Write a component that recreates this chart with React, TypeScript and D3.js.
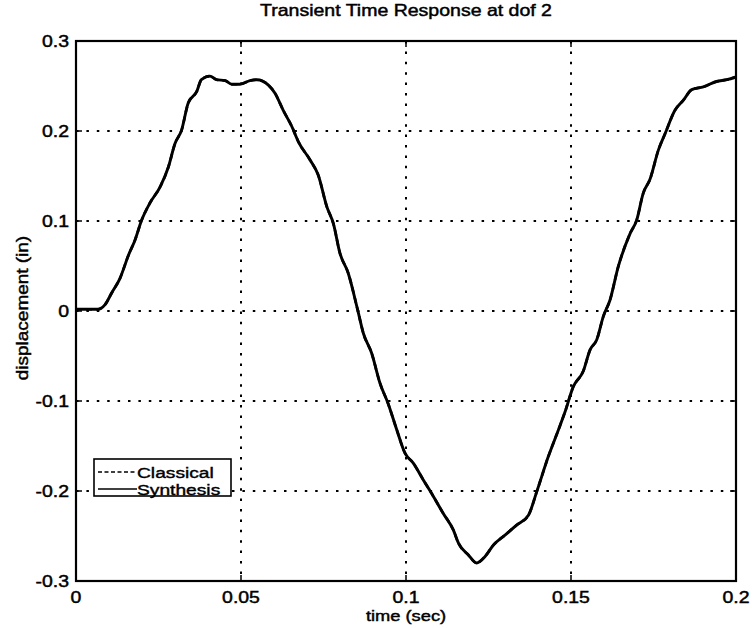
import React, { useRef, useEffect } from 'react';
import * as d3 from 'd3';

// time (sec) samples
const times = [
  0, 0.0067, 0.0088, 0.0108, 0.0133, 0.0159, 0.0179, 0.0199, 0.0224, 0.0255,
  0.028, 0.030, 0.032, 0.034, 0.0366, 0.038, 0.0406, 0.0426, 0.0452, 0.0472,
  0.0497, 0.0527, 0.0548, 0.0583, 0.0603, 0.0628, 0.0654, 0.0674, 0.0709, 0.0734,
  0.076, 0.078, 0.080, 0.0825, 0.0853, 0.0871, 0.0896, 0.0921, 0.0946, 0.0972,
  0.0997, 0.1022, 0.1053, 0.1083, 0.1113, 0.1143, 0.1159, 0.1189, 0.1214, 0.1239,
  0.1265, 0.130, 0.1335, 0.1371, 0.1396, 0.1431, 0.1462, 0.1482, 0.1507, 0.1537,
  0.1558, 0.1578, 0.1598, 0.1618, 0.1643, 0.1679, 0.1699, 0.1719, 0.1739, 0.1765,
  0.1785, 0.1815, 0.184, 0.1866, 0.1901, 0.1941, 0.1972, 0.2,
];

// displacement (in) - synthesis (solid)
const synthesis = [
  0.002, 0.002, 0.007, 0.02, 0.036, 0.062, 0.079, 0.101, 0.12, 0.138,
  0.16, 0.186, 0.201, 0.231, 0.244, 0.257, 0.261, 0.257, 0.256, 0.252,
  0.252, 0.256, 0.257, 0.251, 0.242, 0.223, 0.205, 0.188, 0.168, 0.151,
  0.116, 0.097, 0.064, 0.042, 0.002, -0.025, -0.047, -0.08, -0.103, -0.132,
  -0.158, -0.169, -0.188, -0.206, -0.225, -0.243, -0.258, -0.271, -0.28, -0.273,
  -0.26, -0.249, -0.238, -0.227, -0.201, -0.162, -0.132, -0.112, -0.084, -0.067,
  -0.043, -0.032, -0.006, 0.012, 0.049, 0.086, 0.101, 0.131, 0.146, 0.179,
  0.197, 0.223, 0.234, 0.246, 0.249, 0.255, 0.257, 0.26,
];

// classical (dashed) lies right under the synthesis trace
const classical = [
  0.002, 0.002, 0.007, 0.02, 0.036, 0.062, 0.079, 0.101, 0.12, 0.138,
  0.16, 0.186, 0.201, 0.231, 0.244, 0.257, 0.261, 0.257, 0.256, 0.252,
  0.252, 0.256, 0.257, 0.251, 0.242, 0.223, 0.205, 0.188, 0.168, 0.151,
  0.116, 0.097, 0.064, 0.042, 0.002, -0.025, -0.047, -0.08, -0.103, -0.132,
  -0.158, -0.169, -0.188, -0.206, -0.225, -0.243, -0.258, -0.271, -0.28, -0.273,
  -0.26, -0.249, -0.238, -0.227, -0.201, -0.162, -0.132, -0.112, -0.084, -0.067,
  -0.043, -0.032, -0.006, 0.012, 0.049, 0.086, 0.101, 0.131, 0.146, 0.179,
  0.197, 0.223, 0.234, 0.246, 0.249, 0.255, 0.257, 0.26,
];

const xTicks = [0, 0.05, 0.1, 0.15, 0.2];
const xTickLabels = ['0', '0.05', '0.1', '0.15', '0.2'];
const yTicks = [0.3, 0.2, 0.1, 0, -0.1, -0.2, -0.3];
const yTickLabels = ['0.3', '0.2', '0.1', '0', '-0.1', '-0.2', '-0.3'];
const legendNames = ['Classical', 'Synthesis'];

const App = () => {
  const ref = useRef<HTMLDivElement>(null);

  useEffect(() => {
    const width = 752;
    const height = 628;
    const marginLeft = 76;
    const marginRight = 16;
    const marginTop = 41;
    const marginBottom = 47;
    const font = 'Liberation Sans, Arial, Helvetica, sans-serif';
    const stretch = 1.18;

    const x = d3.scaleLinear([0, 0.2], [marginLeft, width - marginRight]);
    const y = d3.scaleLinear([-0.3, 0.3], [height - marginBottom, marginTop]);

    const svg = d3.create('svg')
      .attr('width', width)
      .attr('height', height)
      .attr('viewBox', [0, 0, width, height])
      .style('position', 'absolute')
      .style('left', 0)
      .style('top', 0)
      .style('background', '#fff')
      .style('font-family', font);

    // horizontally stretched, slightly heavy text, like the scanned figure
    const label = (px: number, py: number, txt: string, size: number, anchor: string, rotate = 0, sx = stretch) => {
      svg.append('g')
        .attr('transform', `translate(${px},${py}) rotate(${rotate}) scale(${sx},1)`)
        .append('text')
        .attr('text-anchor', anchor)
        .attr('font-size', size)
        .attr('fill', '#000')
        .attr('stroke', '#000')
        .attr('stroke-width', 0.45)
        .text(txt);
    };

    // grid
    const grid = svg.append('g')
      .attr('stroke', '#000')
      .attr('stroke-width', 2)
      .attr('stroke-dasharray', '2.5 7.9');
    grid.selectAll('.gx')
      .data(xTicks.slice(1, -1))
      .join('line')
      .attr('x1', d => x(d)).attr('x2', d => x(d))
      .attr('y1', y(0.3)).attr('y2', y(-0.3));
    grid.selectAll('.gy')
      .data(yTicks.slice(1, -1))
      .join('line')
      .attr('y1', d => y(d)).attr('y2', d => y(d))
      .attr('x1', x(0)).attr('x2', x(0.2));

    // tick marks (inside, all four sides)
    const ticks = svg.append('g').attr('stroke', '#000').attr('stroke-width', 1.5);
    xTicks.forEach(t => {
      ticks.append('line').attr('x1', x(t)).attr('x2', x(t)).attr('y1', y(-0.3)).attr('y2', y(-0.3) - 6);
      ticks.append('line').attr('x1', x(t)).attr('x2', x(t)).attr('y1', y(0.3)).attr('y2', y(0.3) + 6);
    });
    yTicks.forEach(t => {
      ticks.append('line').attr('y1', y(t)).attr('y2', y(t)).attr('x1', x(0)).attr('x2', x(0) + 6);
      ticks.append('line').attr('y1', y(t)).attr('y2', y(t)).attr('x1', x(0.2)).attr('x2', x(0.2) - 6);
    });

    // curves
    const line = d3.line<number>()
      .x((_, i) => x(times[i]))
      .y(d => y(d))
      .curve(d3.curveMonotoneX);

    svg.append('path')
      .attr('fill', 'none')
      .attr('stroke', '#000')
      .attr('stroke-width', 2.6)
      .attr('stroke-dasharray', '6 4')
      .attr('d', line(classical));

    svg.append('path')
      .attr('fill', 'none')
      .attr('stroke', '#000')
      .attr('stroke-width', 2.9)
      .attr('stroke-linejoin', 'round')
      .attr('d', line(synthesis));

    // axes box
    svg.append('rect')
      .attr('x', x(0)).attr('y', y(0.3))
      .attr('width', x(0.2) - x(0)).attr('height', y(-0.3) - y(0.3))
      .attr('fill', 'none')
      .attr('stroke', '#000')
      .attr('stroke-width', 2.2);

    // tick labels
    xTicks.forEach((t, i) => label(x(t), y(-0.3) + 22, xTickLabels[i], 16.5, 'middle'));
    yTicks.forEach((t, i) => label(x(0) - 7, y(t) + 6, yTickLabels[i], 16.5, 'end'));

    // titles
    label((x(0) + x(0.2)) / 2, 16, 'Transient Time Response at dof 2', 16, 'middle', 0, 1.22);
    label((x(0) + x(0.2)) / 2, 621, 'time (sec)', 15.5, 'middle');
    label(28, (y(0.3) + y(-0.3)) / 2 - 3, 'displacement (in)', 16.5, 'middle', -90, 1.15);

    // legend
    const lg = svg.append('g');
    lg.append('rect')
      .attr('x', 94).attr('y', 459)
      .attr('width', 137).attr('height', 37)
      .attr('fill', '#fff')
      .attr('stroke', '#000')
      .attr('stroke-width', 1.6);
    legendNames.forEach((name, i) => {
      const ly = 472 + i * 17;
      lg.append('line')
        .attr('x1', 98).attr('x2', 137)
        .attr('y1', ly).attr('y2', ly)
        .attr('stroke', '#000')
        .attr('stroke-width', 1.6)
        .attr('stroke-dasharray', i === 0 ? '4 2.5' : null);
      lg.append('g')
        .attr('transform', `translate(137,${ly + 5.5}) scale(1.24,1)`)
        .append('text')
        .attr('font-size', 15.5)
        .attr('fill', '#000')
        .attr('stroke', '#000')
        .attr('stroke-width', 0.4)
        .text(name);
    });

    ref.current!.appendChild(svg.node()!);
    return () => {
      if (ref.current) ref.current.innerHTML = '';
    };
  }, []);

  return <div ref={ref}></div>;
};

export default App;
